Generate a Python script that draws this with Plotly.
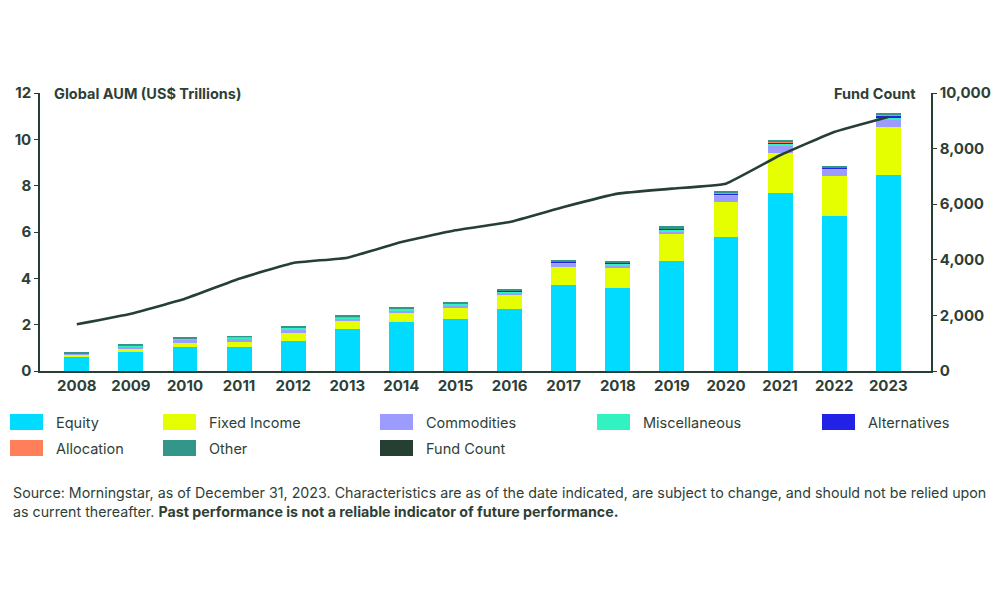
import plotly.graph_objects as go

years = [str(y) for y in range(2008, 2024)]

# Global AUM by category (US$ trillions)
equity = [0.60, 0.82, 1.05, 1.02, 1.31, 1.81, 2.12, 2.26, 2.66, 3.71, 3.60, 4.75, 5.78, 7.68, 6.68, 8.47]
fixed_income = [0.10, 0.14, 0.16, 0.25, 0.32, 0.35, 0.40, 0.50, 0.62, 0.79, 0.86, 1.15, 1.50, 1.72, 1.74, 2.07]
commodities = [0.04, 0.10, 0.14, 0.14, 0.18, 0.11, 0.11, 0.08, 0.11, 0.15, 0.11, 0.11, 0.29, 0.32, 0.26, 0.32]
miscellaneous = [0.02, 0.04, 0.05, 0.05, 0.06, 0.06, 0.06, 0.06, 0.06, 0.04, 0.05, 0.08, 0.04, 0.08, 0.07, 0.07]
alternatives = [0.00, 0.00, 0.00, 0.00, 0.00, 0.00, 0.01, 0.01, 0.01, 0.03, 0.05, 0.04, 0.07, 0.05, 0.02, 0.11]
allocation = [0.01, 0.01, 0.01, 0.01, 0.01, 0.01, 0.01, 0.01, 0.02, 0.01, 0.01, 0.04, 0.01, 0.04, 0.03, 0.03]
other = [0.02, 0.04, 0.04, 0.04, 0.05, 0.05, 0.04, 0.04, 0.04, 0.06, 0.07, 0.07, 0.05, 0.06, 0.05, 0.05]

fund_count = [1680, 2060, 2600, 3320, 3885, 4077, 4640, 5060, 5360, 5900, 6380, 6560, 6740, 7760, 8600, 9140]

series = [
    ('Equity', equity, '#00DBFF'),
    ('Fixed Income', fixed_income, '#E6FF00'),
    ('Commodities', commodities, '#9C9CFF'),
    ('Miscellaneous', miscellaneous, '#33F2C2'),
    ('Alternatives', alternatives, '#2222E6'),
    ('Allocation', allocation, '#FF7F5A'),
    ('Other', other, '#339688'),
]
line_color = '#263F33'
text_color = '#2E3F37'

# the page adds ~8px around the figure, so all pixel positions are shifted back by that
off = 8
left, right, top, bottom = 40 - off, 931 - off, 93 - off, 371 - off

fig = go.Figure()
for name, vals, color in series:
    fig.add_trace(go.Bar(x=years, y=vals, name=name, marker_color=color,
                         marker_line_width=0, width=0.46, showlegend=False))

fig.add_trace(go.Scatter(x=years, y=fund_count, name='Fund Count', mode='lines',
                         line=dict(color=line_color, width=2.6, shape='spline', smoothing=0.3),
                         yaxis='y2', showlegend=False))

tick_font = dict(family='Inter', size=15, color=text_color, weight='bold')

fig.update_layout(
    barmode='stack',
    width=1000, height=600,
    margin=dict(l=left, r=1000 - right, t=top, b=600 - bottom),
    paper_bgcolor='white', plot_bgcolor='white',
    font=dict(family='Inter', color=text_color),
    xaxis=dict(range=[-0.68, 15.79], showline=True, linecolor=line_color, linewidth=1.5,
               ticks='', tickfont=tick_font, showgrid=False, automargin=False),
    yaxis=dict(range=[0, 12], dtick=2, showline=True, linecolor=line_color, linewidth=1.5,
               ticks='outside', ticklen=4, tickcolor=line_color, tickfont=tick_font,
               showgrid=False, zeroline=False, automargin=False),
    yaxis2=dict(range=[0, 10000], dtick=2000, overlaying='y', side='right', showline=True,
                linecolor=line_color, linewidth=1.5, ticks='outside', ticklen=4,
                tickcolor=line_color, tickfont=tick_font, tickformat=',', showgrid=False,
                zeroline=False, automargin=False),
)

plot_w = right - left
plot_h = bottom - top


def px_x(px):
    return (px - off - left) / plot_w


def px_y(py):
    return (bottom - (py - off)) / plot_h


# axis titles at the top of each axis
fig.add_annotation(text='<b>Global AUM (US$ Trillions)</b>', x=px_x(52), xanchor='left',
                   y=px_y(93), yanchor='middle', xref='paper', yref='paper', showarrow=False,
                   font=dict(family='Inter', size=14.5, color=text_color))
fig.add_annotation(text='<b>Fund Count</b>', x=px_x(918), xanchor='right',
                   y=px_y(93), yanchor='middle', xref='paper', yref='paper', showarrow=False,
                   font=dict(family='Inter', size=14.5, color=text_color))

# custom legend with wide swatches
legend_items = [(n, c) for n, _, c in series] + [('Fund Count', line_color)]
col_x = [10, 163, 380, 597, 822]
row_y = [422, 448]
positions = [(col_x[0], row_y[0]), (col_x[1], row_y[0]), (col_x[2], row_y[0]), (col_x[3], row_y[0]),
             (col_x[4], row_y[0]), (col_x[0], row_y[1]), (col_x[1], row_y[1]), (col_x[2], row_y[1])]
for (name, color), (lx, ly) in zip(legend_items, positions):
    fig.add_shape(type='rect', xref='paper', yref='paper',
                  x0=px_x(lx), x1=px_x(lx + 33), y0=px_y(ly + 8), y1=px_y(ly - 8),
                  fillcolor=color, line_width=0)
    fig.add_annotation(text=name, x=px_x(lx + 44), y=px_y(ly), xref='paper', yref='paper',
                       xanchor='left', yanchor='middle', showarrow=False,
                       font=dict(family='Inter', size=14.5, color=text_color))

source = ('Source: Morningstar, as of December 31, 2023. Characteristics are as of the date indicated, '
          'are subject to change, and should not be relied upon<br>as current thereafter. '
          '<b>Past performance is not a reliable indicator of future performance.</b>')
fig.add_annotation(text=source, x=px_x(11), y=px_y(482), xref='paper', yref='paper',
                   xanchor='left', yanchor='top', align='left', showarrow=False,
                   font=dict(family='Inter', size=14.25, color=text_color))

fig.write_html('out.html')
